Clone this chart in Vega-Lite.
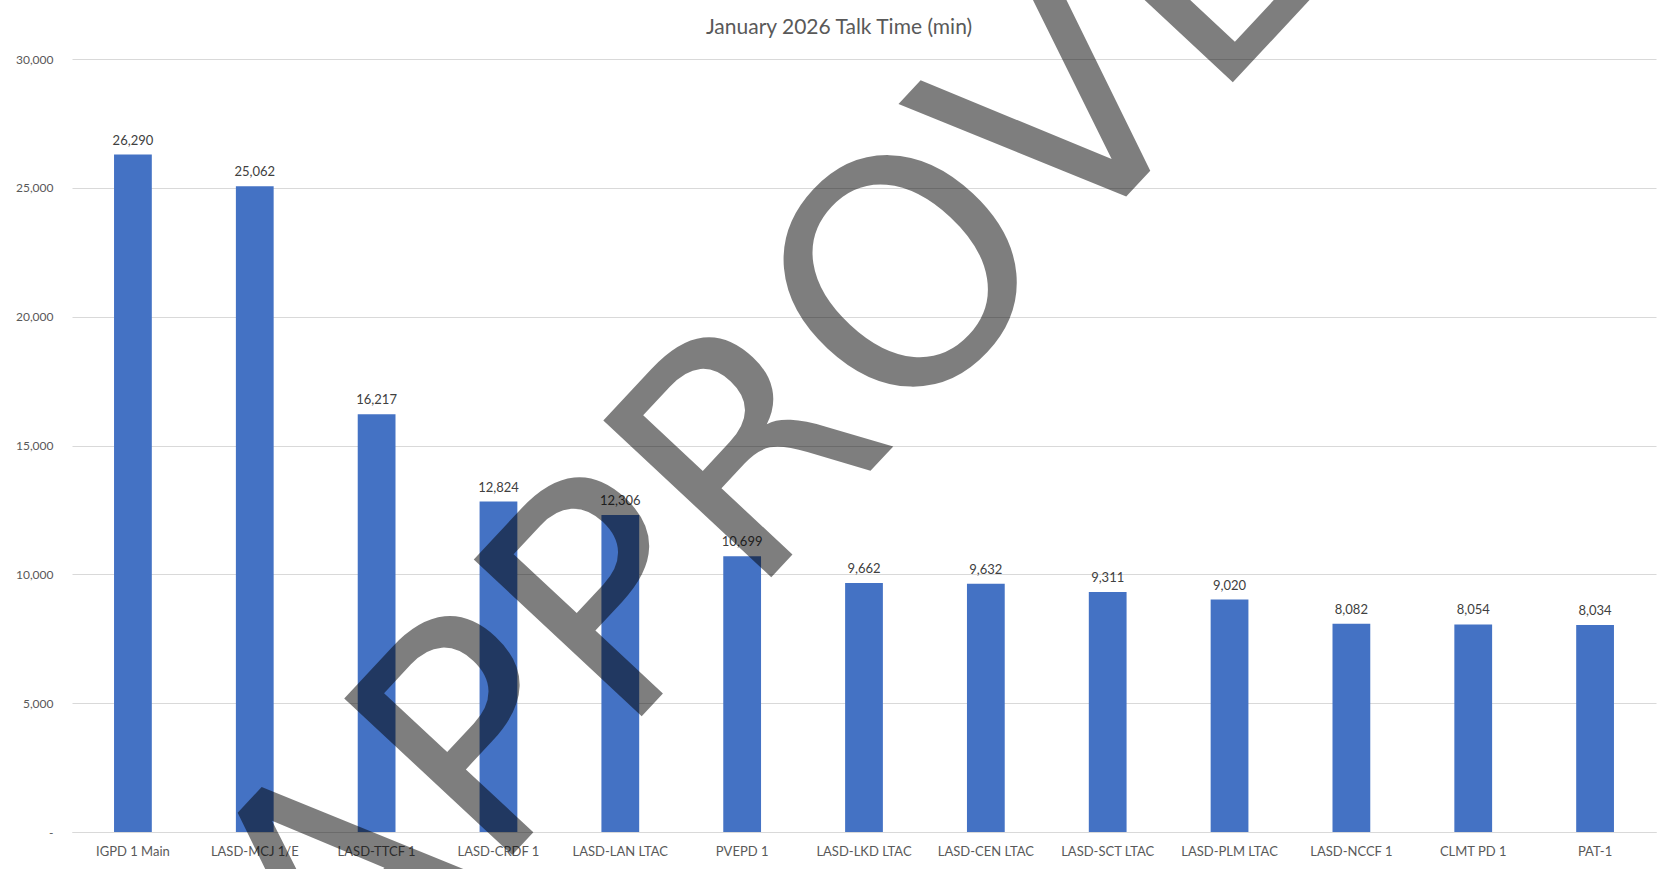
{
  "$schema": "https://vega.github.io/schema/vega-lite/v6.json",
  "autosize": {"type": "none"},
  "width": 1584,
  "height": 773,
  "padding": {"left": 72, "top": 59, "right": 16, "bottom": 37},
  "background": "white",
  "title": {
    "text": "January 2026 Talk Time (min)",
    "font": "Lato",
    "fontSize": 21,
    "fontWeight": "normal",
    "color": "#595959",
    "anchor": "middle",
    "frame": "group",
    "dx": -25,
    "offset": -428
  },
  "config": {
    "view": {"stroke": null},
    "font": "Lato"
  },
  "datasets": {
    "talk": [
      {"site": "IGPD 1 Main", "minutes": 26290},
      {"site": "LASD-MCJ 1/E", "minutes": 25062},
      {"site": "LASD-TTCF 1", "minutes": 16217},
      {"site": "LASD-CRDF 1", "minutes": 12824},
      {"site": "LASD-LAN LTAC", "minutes": 12306},
      {"site": "PVEPD 1", "minutes": 10699},
      {"site": "LASD-LKD LTAC", "minutes": 9662},
      {"site": "LASD-CEN LTAC", "minutes": 9632},
      {"site": "LASD-SCT LTAC", "minutes": 9311},
      {"site": "LASD-PLM LTAC", "minutes": 9020},
      {"site": "LASD-NCCF 1", "minutes": 8082},
      {"site": "CLMT PD 1", "minutes": 8054},
      {"site": "PAT-1", "minutes": 8034}
    ],
    "stamp": [
      {"stamp": "APPROVED", "site": "LASD-LKD LTAC", "minutes": 15000}
    ]
  },
  "layer": [
    {
      "data": {"name": "talk"},
      "mark": {"type": "bar", "color": "#4472c4"},
      "encoding": {
        "x": {
          "field": "site",
          "type": "nominal",
          "sort": null,
          "scale": {"paddingInner": 0.69, "paddingOuter": 0.345},
          "axis": {
            "title": null,
            "labelAngle": 0,
            "labelFont": "Lato",
            "labelFontSize": 13,
            "labelColor": "#595959",
            "labelPadding": 13,
            "ticks": false,
            "domainColor": "#d9d9d9",
            "domainWidth": 1
          }
        },
        "y": {
          "field": "minutes",
          "type": "quantitative",
          "scale": {"domain": [0, 30000], "nice": false},
          "axis": {
            "title": null,
            "values": [0, 5000, 10000, 15000, 20000, 25000, 30000],
            "labelExpr": "datum.value === 0 ? '-' : format(datum.value, ',')",
            "labelFont": "Lato",
            "labelFontSize": 12,
            "labelColor": "#595959",
            "labelPadding": 19,
            "ticks": false,
            "domain": false,
            "grid": true,
            "gridColor": "#d9d9d9",
            "gridWidth": 1
          }
        }
      }
    },
    {
      "data": {"name": "talk"},
      "mark": {
        "type": "text",
        "baseline": "bottom",
        "dy": -7,
        "font": "Lato",
        "fontSize": 13,
        "color": "#404040"
      },
      "encoding": {
        "x": {"field": "site", "type": "nominal", "sort": null},
        "y": {"field": "minutes", "type": "quantitative"},
        "text": {"field": "minutes", "type": "quantitative", "format": ","}
      }
    },
    {
      "data": {"name": "stamp"},
      "mark": {
        "type": "text",
        "font": "DejaVu Sans",
        "fontSize": 315,
        "angle": -47,
        "align": "center",
        "baseline": "alphabetic",
        "dx": 71,
        "dy": 22,
        "color": "#000000",
        "opacity": 0.5
      },
      "encoding": {
        "x": {"field": "site", "type": "nominal", "sort": null},
        "y": {"field": "minutes", "type": "quantitative"},
        "text": {"field": "stamp", "type": "nominal"}
      }
    }
  ]
}
